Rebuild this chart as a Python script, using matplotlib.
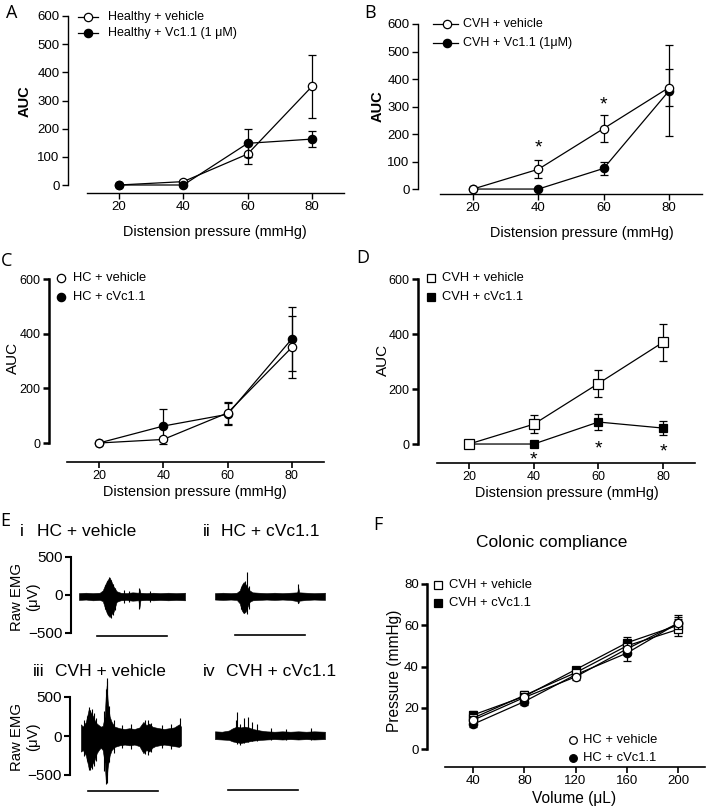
import matplotlib
matplotlib.use("Agg")
import matplotlib.pyplot as plt
from matplotlib.lines import Line2D

plt.rcParams['font.family'] = ['Liberation Sans', 'DejaVu Sans']

# ---------------- data ----------------
pressure = [20, 40, 60, 80]

# Panel A
a_veh = [0, 12, 110, 350]
a_veh_err = [0, 5, 37, 113]
a_vc = [0, 0, 148, 163]
a_vc_err = [0, 2, 50, 28]

# Panel B
b_veh = [0, 72, 220, 369]
b_veh_err = [0, 33, 50, 67]
b_vc = [0, 0, 75, 357]
b_vc_err = [0, 0, 23, 165]
b_star_x = [40, 60]
b_star_y = [132, 290]

# Panel C
c_veh = [0, 13, 110, 350]
c_veh_err = [0, 5, 40, 113]
c_vc = [0, 62, 105, 381]
c_vc_err = [0, 64, 40, 116]

# Panel D
d_veh = [0, 72, 220, 370]
d_veh_err = [0, 33, 50, 67]
d_vc = [0, 0, 80, 58]
d_vc_err = [0, 0, 28, 27]
d_star_x = [40, 60, 80]
d_star_y = [-75, -33, -47]

# Panel F
volume = [40, 80, 120, 160, 200]
f_cvh_veh = [15, 26, 37, 50, 58]
f_cvh_veh_err = [2, 2, 2, 3, 3]
f_cvh_vc = [16.5, 25.5, 38.5, 51.5, 60]
f_cvh_vc_err = [2, 1.5, 1.5, 3, 3]
f_hc_veh = [14, 25, 35, 48.5, 61]
f_hc_veh_err = [2, 2, 1.5, 3, 3]
f_hc_vc = [12, 23, 36, 46.5, 61]
f_hc_vc_err = [1.5, 1.5, 1.5, 4, 4]

# Panel E: EMG envelopes (uV), time in s
t_i = [0.8, 1.5, 2.2, 2.9, 3.2, 3.5, 3.7, 3.9, 4.1, 4.3, 4.6, 5.0, 5.6, 6.2, 6.8, 6.9, 7.0, 7.6, 8.3, 9.0, 9.8, 10.6, 11.5]
up_i = [25, 30, 25, 30, 60, 150, 200, 230, 170, 110, 50, 30, 25, 35, 30, 80, 30, 25, 30, 25, 30, 25, 30]
lo_i = [-65, -60, -70, -65, -80, -200, -260, -290, -250, -220, -90, -70, -65, -75, -70, -170, -70, -65, -70, -65, -70, -65, -70]
spk_t_i = [3.4, 3.6, 3.8, 4.0, 4.2, 4.4, 5.3, 5.8, 6.9, 8.0]
spk_hi_i = [130, 180, 240, 200, 150, 90, 60, 50, 90, 50]
spk_lo_i = [-180, -240, -230, -300, -260, -200, -110, -90, -180, -90]

t_ii = [0.8, 1.6, 2.4, 3.0, 3.3, 3.5, 3.7, 3.9, 4.1, 4.3, 4.6, 5.2, 6.0, 6.8, 7.6, 8.4, 9.1, 9.2, 9.3, 10.0, 10.8, 11.9]
up_ii = [25, 30, 25, 30, 60, 130, 170, 140, 100, 60, 35, 30, 25, 30, 25, 30, 35, 100, 35, 30, 25, 30]
lo_ii = [-60, -65, -60, -65, -110, -200, -240, -220, -150, -90, -70, -65, -60, -65, -60, -65, -80, -110, -75, -65, -60, -65]
spk_t_ii = [3.4, 3.6, 3.8, 4.0, 4.2, 9.2]
spk_hi_ii = [110, 150, 180, 300, 120, 150]
spk_lo_ii = [-180, -230, -200, -250, -180, -100]

t_iii = [1.1, 1.3, 1.6, 1.9, 2.1, 2.3, 2.5, 2.7, 2.9, 3.1, 3.3, 3.5, 3.6, 3.7, 3.8, 4.0, 4.2, 4.5, 5.0, 5.5, 6.0, 6.5, 7.0, 7.4, 7.7, 8.0, 8.3, 8.6, 9.0, 9.5, 10.0, 10.5, 11.0, 11.2]
up_iii = [150, 120, 180, 350, 300, 260, 200, 160, 140, 120, 130, 250, 500, 650, 450, 250, 180, 120, 100, 90, 100, 90, 110, 180, 140, 160, 120, 110, 100, 90, 100, 110, 150, 120]
lo_iii = [-200, -180, -250, -420, -400, -350, -300, -220, -180, -150, -180, -350, -560, -550, -400, -250, -180, -140, -120, -110, -120, -110, -130, -220, -180, -200, -150, -130, -120, -110, -120, -130, -140, -120]
spk_t_iii = [1.4, 1.7, 1.9, 2.0, 2.2, 2.4, 2.6, 3.4, 3.6, 3.7, 3.75, 3.9, 4.4, 5.2, 6.2, 7.6, 7.9, 8.2, 9.3, 10.2, 11.1]
spk_hi_iii = [200, 260, 376, 330, 340, 290, 230, 320, 600, 740, 700, 380, 200, 140, 150, 200, 210, 170, 140, 150, 225]
spk_lo_iii = [-260, -320, -440, -430, -420, -380, -320, -450, -610, -600, -500, -330, -220, -160, -170, -230, -240, -200, -160, -170, -130]

t_iv = [0.8, 1.5, 2.2, 2.6, 3.0, 3.4, 3.8, 4.2, 4.6, 5.0, 5.4, 6.0, 6.8, 7.6, 8.4, 9.2, 10.0, 10.8, 11.9]
up_iv = [60, 55, 70, 100, 120, 110, 120, 110, 90, 80, 70, 60, 55, 60, 55, 60, 55, 60, 55]
lo_iv = [-40, -45, -50, -70, -80, -90, -80, -70, -60, -55, -50, -45, -40, -45, -40, -45, -40, -45, -40]
spk_t_iv = [2.9, 3.0, 3.3, 3.7, 4.1, 4.5, 5.0, 6.5, 8.0, 10.5]
spk_hi_iv = [200, 312, 150, 230, 250, 180, 160, 100, 95, 100]
spk_lo_iv = [-80, -100, -115, -90, -80, -70, -60, -55, -50, -55]

# scale bars (s)
bar_i = [2.6, 9.7]
bar_ii = [2.8, 9.9]
bar_iii = [1.8, 8.9]
bar_iv = [2.1, 9.2]

# ---------------- figure ----------------
W, H = 709, 810
fig = plt.figure(figsize=(W / 100, H / 100), dpi=100)


def add_ax(left, top, right, bottom):
    ax = fig.add_axes([left / W, 1 - bottom / H, (right - left) / W, (bottom - top) / H])
    ax.patch.set_alpha(0)
    return ax


def ftext(x, y, s, **kw):
    kw.setdefault('ha', 'center')
    kw.setdefault('va', 'center')
    fig.text(x / W, 1 - y / H, s, **kw)


def prism(ax, xlim, ylim, xb, yb, xticks, yticks, lw=1.0, fs=9.5, ylw=None):
    ax.set_xlim(xlim)
    ax.set_ylim(ylim)
    for s in ['top', 'right']:
        ax.spines[s].set_visible(False)
    ax.spines['left'].set_bounds(*yb)
    ax.spines['bottom'].set_bounds(*xb)
    ax.spines['left'].set_linewidth(ylw if ylw else lw)
    ax.spines['bottom'].set_linewidth(lw)
    ax.set_xticks(xticks)
    ax.set_yticks(yticks)
    ax.tick_params(axis='x', width=lw, length=4, labelsize=fs, pad=2)
    ax.tick_params(axis='y', width=ylw if ylw else lw, length=4, labelsize=fs, pad=2)


def series(ax, x, y, e, marker, filled, ms, z):
    ax.errorbar(x, y, yerr=e, color='black', lw=0.9, elinewidth=0.9, capsize=3,
                capthick=0.9, marker=marker, ms=ms,
                mfc='black' if filled else 'white', mec='black', mew=0.9,
                zorder=z, clip_on=False)


def legend_row(xm, y, xt, marker, filled, label, ms=6, line=None, fs=9):
    fy = 1 - y / H
    if line:
        fig.add_artist(Line2D([line[0] / W, line[1] / W], [fy, fy], color='black', lw=0.9))
    fig.add_artist(Line2D([xm / W], [fy], marker=marker, ms=ms, ls='none',
                          mfc='black' if filled else 'white', mec='black', mew=0.9))
    ftext(xt, y, label, ha='left', fontsize=fs)


# ---- Panel A ----
axA = add_ax(68, 16, 345, 193)
prism(axA, (4.15, 90.26), (-28.4, 600), (10, 90), (0, 600), pressure, range(0, 601, 100))
series(axA, pressure, a_veh, a_veh_err, 'o', False, 6, 3)
series(axA, pressure, a_vc, a_vc_err, 'o', True, 6, 4)
ftext(25, 101, 'AUC', rotation=90, fontsize=10.5, fontweight='bold')
ftext(215, 232, 'Distension pressure (mmHg)', fontsize=10.4)
legend_row(88, 17, 108, 'o', False, 'Healthy + vehicle', line=(78, 98))
legend_row(88, 33, 108, 'o', True, 'Healthy + Vc1.1 (1 \u03bcM)', line=(78, 98))
ftext(12, 13, 'A', fontsize=13, family='Open Sans')

# ---- Panel B ----
axB = add_ax(418, 24, 702, 194)
prism(axB, (3.17, 90.1), (-18, 600), (10, 90), (0, 600), pressure, range(0, 601, 100))
series(axB, pressure, b_vc, b_vc_err, 'o', True, 6, 3)
series(axB, pressure, b_veh, b_veh_err, 'o', False, 6, 4)
for sx, sy in zip(b_star_x, b_star_y):
    axB.text(sx, sy, '*', ha='center', va='baseline', fontsize=14)
ftext(378, 106, 'AUC', rotation=90, fontsize=10.5, fontweight='bold')
ftext(582, 233, 'Distension pressure (mmHg)', fontsize=10.4)
legend_row(447, 24, 463, 'o', False, 'CVH + vehicle', line=(433, 458))
legend_row(447, 43, 463, 'o', True, 'CVH + Vc1.1 (1\u03bcM)', line=(433, 458))
ftext(370, 13, 'B', fontsize=13, family='Open Sans')

# ---- Panel C ----
axC = add_ax(49, 279, 325, 462)
prism(axC, (4.46, 90.3), (-69.5, 600), (10, 90), (0, 600), pressure, [0, 200, 400, 600],
      lw=1.2, fs=9, ylw=1.8)
series(axC, pressure, c_vc, c_vc_err, 'o', True, 6, 3)
series(axC, pressure, c_veh, c_veh_err, 'o', False, 6, 4)
ftext(13, 358, 'AUC', rotation=90, fontsize=11)
ftext(195, 492, 'Distension pressure (mmHg)', fontsize=10.4)
legend_row(61, 278, 73, 'o', False, 'HC + vehicle', fs=9.3)
legend_row(61, 297, 73, 'o', True, 'HC + cVc1.1', fs=9.3)
ftext(7, 261, 'C', fontsize=13, family='Open Sans')

# ---- Panel D ----
axD = add_ax(418, 279, 695, 463)
prism(axD, (4.2, 89.9), (-69, 600), (10, 90), (0, 600), pressure, [0, 200, 400, 600],
      lw=1.2, fs=9, ylw=1.8)
series(axD, pressure, d_vc, d_vc_err, 's', True, 6, 3)
series(axD, pressure, d_veh, d_veh_err, 's', False, 6.5, 4)
for sx, sy in zip(d_star_x, d_star_y):
    axD.text(sx, sy, '*', ha='center', va='baseline', fontsize=14, clip_on=False)
ftext(383, 360, 'AUC', rotation=90, fontsize=11)
ftext(567, 493, 'Distension pressure (mmHg)', fontsize=10.4)
legend_row(431, 278, 442, 's', False, 'CVH + vehicle', ms=5.5, fs=9.3)
legend_row(431, 297, 442, 's', True, 'CVH + cVc1.1', ms=5.5, fs=9.3)
ftext(363, 258, 'D', fontsize=13, family='Open Sans')


# ---- Panel E ----
def emg(box, t, up, lo, st, shi, slo, bar, bar_y, show_axis):
    ax = add_ax(*box)
    ax.set_xlim(0, 12)
    ax.set_ylim(-500, 500)
    ax.fill_between(t, lo, up, color='black', lw=0.4, clip_on=False)
    ax.vlines(st, slo, shi, color='black', lw=0.8, clip_on=False)
    ax.plot(bar, [bar_y, bar_y], color='black', lw=1.2, clip_on=False)
    for s in ['top', 'right', 'bottom']:
        ax.spines[s].set_visible(False)
    ax.set_xticks([])
    if show_axis:
        ax.spines['left'].set_linewidth(1.5)
        ax.set_yticks([500, 0, -500])
        ax.tick_params(axis='y', width=1.5, length=4, labelsize=11, pad=2)
    else:
        ax.spines['left'].set_visible(False)
        ax.set_yticks([])
    return ax


emg((71, 557, 190, 633), t_i, up_i, lo_i, spk_t_i, spk_hi_i, spk_lo_i, bar_i, -540, True)
emg((207, 557, 326, 633), t_ii, up_ii, lo_ii, spk_t_ii, spk_hi_ii, spk_lo_ii, bar_ii, -530, False)
emg((70, 697, 189, 775), t_iii, up_iii, lo_iii, spk_t_iii, spk_hi_iii, spk_lo_iii, bar_iii, -705, True)
emg((207, 697, 326, 775), t_iv, up_iv, lo_iv, spk_t_iv, spk_hi_iv, spk_lo_iv, bar_iv, -690, False)

ftext(22, 532, 'i', fontsize=12.5, ha='center')
ftext(37, 532, 'HC + vehicle', fontsize=12.5, ha='left')
ftext(203, 532, 'ii', fontsize=12.5, ha='left')
ftext(221, 532, 'HC + cVc1.1', fontsize=12.5, ha='left')
ftext(33, 672, 'iii', fontsize=12.5, ha='left')
ftext(55, 672, 'CVH + vehicle', fontsize=12.5, ha='left')
ftext(203, 672, 'iv', fontsize=12.5, ha='left')
ftext(226, 672, 'CVH + cVc1.1', fontsize=12.5, ha='left')
ftext(25, 597, 'Raw EMG\n(\u03bcV)', rotation=90, fontsize=10.7, linespacing=1.25)
ftext(25, 737, 'Raw EMG\n(\u03bcV)', rotation=90, fontsize=10.7, linespacing=1.25)
ftext(5, 521, 'E', fontsize=13, family='Open Sans')

# ---- Panel F ----
axF = add_ax(427, 584, 705, 767)
prism(axF, (4.1, 221), (-8.7, 80), (18, 221), (0, 80), volume, range(0, 81, 20),
      lw=1.2, fs=9.5, ylw=1.8)
series(axF, volume, f_hc_vc, f_hc_vc_err, 'o', True, 6, 3)
series(axF, volume, f_cvh_vc, f_cvh_vc_err, 's', True, 6, 3.2)
series(axF, volume, f_cvh_veh, f_cvh_veh_err, 's', False, 6, 3.4)
series(axF, volume, f_hc_veh, f_hc_veh_err, 'o', False, 6, 3.6)
ftext(552, 543, 'Colonic compliance', fontsize=12.5)
ftext(394, 671, 'Pressure (mmHg)', rotation=90, fontsize=11.2)
ftext(574, 799, 'Volume (\u03bcL)', fontsize=11.2)
legend_row(438, 585, 449, 's', False, 'CVH + vehicle', ms=5.5, fs=9.4)
legend_row(438, 603, 449, 's', True, 'CVH + cVc1.1', ms=5.5, fs=9.4)
legend_row(573, 740, 583, 'o', False, 'HC + vehicle', ms=5.5, fs=9.4)
legend_row(573, 758, 583, 'o', True, 'HC + cVc1.1', ms=5.5, fs=9.4)
ftext(378, 525, 'F', fontsize=13, family='Open Sans')

fig.savefig('out.png', dpi=100)
